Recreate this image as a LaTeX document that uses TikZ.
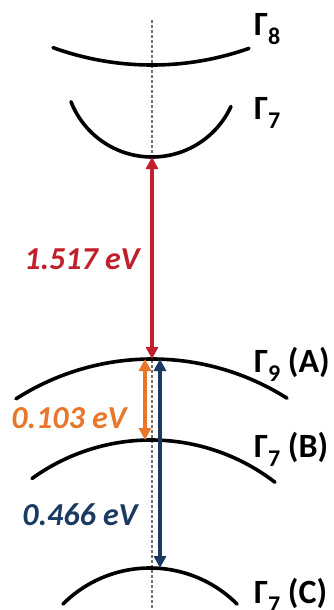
\documentclass[tikz,border=0pt]{standalone}
\usepackage{fontspec}
\setmainfont{Carlito}
\usetikzlibrary{arrows.meta}
\definecolor{gapred}{HTML}{C0202C}
\definecolor{gaporange}{HTML}{E8762B}
\definecolor{gapblue}{HTML}{1A3A62}
\tikzset{
  band/.style={line width=3.6pt, black, line cap=round},
  axisline/.style={line width=1.2pt, black!55, dash pattern=on 3pt off 2pt},
  gaparrow/.style={line width=3.5pt, {Triangle[length=12pt,width=12pt]}-{Triangle[length=12pt,width=12pt]}},
  gaplabel/.style={font=\fontsize{32}{32}\selectfont\bfseries\itshape, inner sep=0pt},
  bandlabel/.style={font=\fontsize{34}{34}\selectfont\bfseries, inner sep=0pt, anchor=base west},
}
\newcommand{\bsub}[1]{\raisebox{-9pt}{\fontsize{24}{24}\selectfont #1}}
% circular band: #1 centre x, #2 centre y, #3 radius, #4 x from, #5 x to, #6 sign
\newcommand{\bandarc}[6]{%
  \draw[band] plot[domain=#4:#5, samples=80, smooth] (\x, {#2 + (#6)*#3*sqrt(1-((\x-#1)/#3)^2)});}
\begin{document}
\begin{tikzpicture}[x=1pt,y=-1pt]
\useasboundingbox (0,0) rectangle (333,610);
% axis
\coordinate (axtop) at (152,20);
\coordinate (axbot) at (152,612);
\draw[axisline] (axtop) -- (axbot);
% band extrema
\coordinate (g8) at (152,65);
\coordinate (g7u) at (152,157);
\coordinate (g9) at (152,359);
\coordinate (g7b) at (152,440);
\coordinate (g7c) at (152,568);
% bands
\bandarc{152}{-226}{291}{53}{249}{1}
\bandarc{152}{70}{87}{71}{231}{1}
\bandarc{152}{611}{252}{16}{287}{-1}
\bandarc{151}{643}{203}{32}{275}{-1}
\bandarc{150}{691}{123}{63}{237}{-1}
% arrows
\draw[gaparrow, gapred] (g7u) -- (g9);
\draw[gaparrow, gaporange] ([xshift=-7pt]g9) -- ([xshift=-7pt]g7b);
\draw[gaparrow, gapblue] ([xshift=8pt]g9) -- ([xshift=8pt]g7c);
% gap labels
\node[gaplabel, text=gapred] (l1) at (82,259) {1.517 eV};
\node[gaplabel, text=gaporange] (l2) at (69,418) {0.103 eV};
\node[gaplabel, text=gapblue] (l3) at (80,515) {0.466 eV};
% band labels
\node[bandlabel] (t8) at (254,36) {Γ\bsub{8}};
\node[bandlabel] (t7u) at (254,119) {Γ\bsub{7}};
\node[bandlabel] (t9) at (254,372) {Γ\bsub{9} (A)};
\node[bandlabel] (t7b) at (254,457) {Γ\bsub{7} (B)};
\node[bandlabel] (t7c) at (254,603) {Γ\bsub{7} (C)};
\end{tikzpicture}
\end{document}
